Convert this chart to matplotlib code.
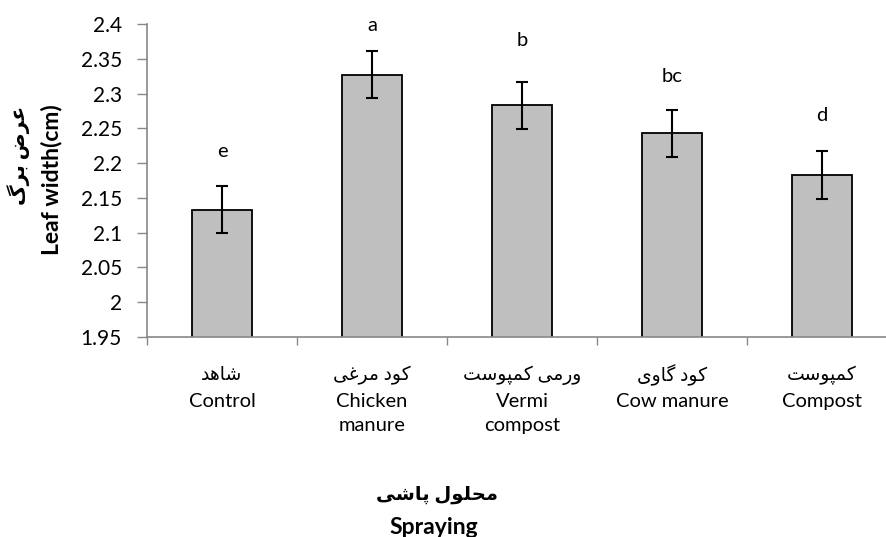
import matplotlib
matplotlib.use("Agg")
import matplotlib.pyplot as plt
import matplotlib.transforms as mtransforms
import numpy as np

# data
fa_labels = ["شاهد", "کود مرغی", "ورمی کمپوست", "کود گاوی", "کمپوست"]
en_labels = ["Control", "Chicken\nmanure", "Vermi\ncompost", "Cow manure", "Compost"]
means = [2.133, 2.327, 2.283, 2.243, 2.183]
errors = [0.034, 0.034, 0.034, 0.034, 0.034]
letters = ["e", "a", "b", "bc", "d"]
letter_y = [2.217, 2.398, 2.376, 2.324, 2.269]

# minimal Persian shaping (matplotlib 3.10 has no text shaping)
FORMS = {
    "ا": (0xFE8D, 0xFE8E, None, None),
    "ب": (0xFE8F, 0xFE90, 0xFE91, 0xFE92),
    "ت": (0xFE95, 0xFE96, 0xFE97, 0xFE98),
    "ح": (0xFEA1, 0xFEA2, 0xFEA3, 0xFEA4),
    "د": (0xFEA9, 0xFEAA, None, None),
    "ر": (0xFEAD, 0xFEAE, None, None),
    "س": (0xFEB1, 0xFEB2, 0xFEB3, 0xFEB4),
    "ش": (0xFEB5, 0xFEB6, 0xFEB7, 0xFEB8),
    "ض": (0xFEBD, 0xFEBE, 0xFEBF, 0xFEC0),
    "ع": (0xFEC9, 0xFECA, 0xFECB, 0xFECC),
    "غ": (0xFECD, 0xFECE, 0xFECF, 0xFED0),
    "ل": (0xFEDD, 0xFEDE, 0xFEDF, 0xFEE0),
    "م": (0xFEE1, 0xFEE2, 0xFEE3, 0xFEE4),
    "ه": (0xFEE9, 0xFEEA, 0xFEEB, 0xFEEC),
    "و": (0xFEED, 0xFEEE, None, None),
    "پ": (0xFB56, 0xFB57, 0xFB58, 0xFB59),
    "ک": (0xFB8E, 0xFB8F, 0xFB90, 0xFB91),
    "گ": (0xFB92, 0xFB93, 0xFB94, 0xFB95),
    "ی": (0xFBFC, 0xFBFD, 0xFBFE, 0xFBFF),
}


def shape(text):
    out = []
    for i, ch in enumerate(text):
        if ch not in FORMS:
            out.append(ch)
            continue
        iso, fin, ini, med = FORMS[ch]
        prev = text[i - 1] if i > 0 else ""
        nxt = text[i + 1] if i + 1 < len(text) else ""
        jp = prev in FORMS and FORMS[prev][2] is not None
        jn = nxt in FORMS and ini is not None
        if jp and jn:
            code = med
        elif jp:
            code = fin
        elif jn:
            code = ini
        else:
            code = iso
        out.append(chr(code))
    return "".join(out)[::-1]


plt.rcParams["font.family"] = ["Lato", "DejaVu Sans"]

fig = plt.figure(figsize=(8.87, 5.37), dpi=100)
ax = fig.add_axes([147 / 887, 1 - 337 / 537, 750 / 887, 313 / 537])

x = np.arange(len(means))
ax.bar(x, means, width=0.4, color="#BFBFBF", edgecolor="black", linewidth=1.3, zorder=2)
ax.errorbar(x, means, yerr=errors, fmt="none", ecolor="black", elinewidth=1.5,
            capsize=4.5, capthick=1.5, zorder=3)
for xi, lab, ly in zip(x, letters, letter_y):
    ax.text(xi, ly, lab, ha="center", va="center", fontsize=14.5)

ax.set_xlim(-0.5, 4.5)
ax.set_ylim(1.95, 2.4)
ax.set_yticks(np.arange(1.95, 2.4001, 0.05))
ax.set_yticklabels(["1.95", "2", "2.05", "2.1", "2.15", "2.2", "2.25", "2.3", "2.35", "2.4"])
ax.tick_params(axis="y", labelsize=15, length=7, width=1, color="#888888", pad=11)

ax.set_xticks(np.arange(-0.5, 5, 1.0))
ax.set_xticklabels([])
ax.tick_params(axis="x", which="major", length=6, width=1, color="#888888")
ax.set_xticks(x, minor=True)
ax.set_xticklabels(en_labels, minor=True, va="top", linespacing=1.55)
ax.tick_params(axis="x", which="minor", length=0, labelsize=14.5, pad=40)

# Persian category names above the English ones
trans = mtransforms.blended_transform_factory(ax.transData, ax.transAxes)
for xi, fa in zip(x, fa_labels):
    ax.annotate(shape(fa), xy=(xi, 0), xycoords=trans, xytext=(0, -38 * 0.72),
                textcoords="offset points", ha="center", va="center", fontsize=13.5)

for s in ["top", "right"]:
    ax.spines[s].set_visible(False)
for s in ["left", "bottom"]:
    ax.spines[s].set_color("#888888")
    ax.spines[s].set_linewidth(1.2)

fig.text(19 / 887, 1 - 155 / 537, shape("عرض برگ"), rotation=90,
         ha="center", va="center", fontsize=14.5, fontweight="bold")
fig.text(52 / 887, 1 - 180 / 537, "Leaf width(cm)", rotation=90,
         ha="center", va="center", fontsize=16.5, fontweight="bold")
fig.text(437 / 887, 1 - 495 / 537, shape("محلول پاشی"),
         ha="center", va="center", fontsize=14, fontweight="bold")
fig.text(434 / 887, 1 - 527 / 537, "Spraying",
         ha="center", va="center", fontsize=16.5, fontweight="bold")

fig.savefig("out.png", dpi=100)
